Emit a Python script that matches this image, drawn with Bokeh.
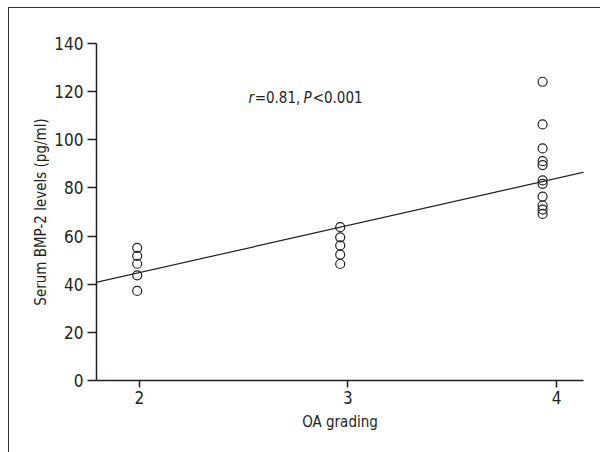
from bokeh.plotting import figure
from bokeh.models import Slope, Label, FixedTicker, Range1d
from bokeh.embed import file_html
from bokeh.resources import INLINE

# Data
grade2_x = [1.99] * 5
grade2_y = [55.1, 51.8, 48.5, 43.7, 37.2]
grade3_x = [2.963] * 5
grade3_y = [63.7, 59.5, 56.1, 52.3, 48.4]
grade4_x = [3.933] * 11
grade4_y = [124.1, 106.4, 96.4, 91.1, 89.5, 83.1, 81.7, 76.4, 72.7, 71.0, 69.2]
x_ticks = [2, 3, 4]
y_ticks = [0, 20, 40, 60, 80, 100, 120, 140]
fit_gradient = 19.6
fit_intercept = 5.6

FONT = "'DejaVu Sans Condensed', Roboto, sans-serif"
INK = "#231f20"

p = figure(width=592, height=445, output_backend="svg", toolbar_location=None,
           x_range=Range1d(1.795, 4.129), y_range=Range1d(0, 140),
           min_border_left=87, min_border_right=18, min_border_top=35, min_border_bottom=73,
           margin=(7, 0, 0, 8),
           styles={"border-left": "1px solid #333", "border-top": "1px solid #333"})
p.outline_line_color = None
p.grid.visible = False
p.background_fill_color = "white"

xs = grade2_x + grade3_x + grade4_x
ys = grade2_y + grade3_y + grade4_y
p.scatter(xs, ys, size=9, fill_color=None, line_color=INK, line_width=1.2)

p.add_layout(Slope(gradient=fit_gradient, y_intercept=fit_intercept, line_color=INK, line_width=1.2))

for ax in (p.xaxis[0], p.yaxis[0]):
    ax.axis_line_color = INK
    ax.axis_line_width = 1.5
    ax.major_tick_line_color = INK
    ax.major_tick_line_width = 1.5
    ax.minor_tick_line_color = None
    ax.major_tick_in = 0
    ax.major_label_text_font = FONT
    ax.major_label_text_font_size = "17px"
    ax.major_label_text_color = INK
    ax.axis_label_text_font = FONT
    ax.axis_label_text_font_size = "15px"
    ax.axis_label_text_font_style = "normal"
    ax.axis_label_text_color = INK

p.xaxis.ticker = FixedTicker(ticks=x_ticks)
p.yaxis.ticker = FixedTicker(ticks=y_ticks)
p.xaxis.major_tick_out = 7
p.yaxis.major_tick_out = 9
p.xaxis.major_label_standoff = 3
p.yaxis.major_label_standoff = 4
p.xaxis.axis_label = "OA grading"
p.yaxis.axis_label = "Serum BMP-2 levels (pg/ml)"
p.xaxis.axis_label_standoff = 6
p.yaxis.axis_label_standoff = 1

parts = [("r", "italic", 2.523), ("=0.81,", "normal", 2.553), ("P", "italic", 2.787), ("<0.001", "normal", 2.831)]
for txt, style, xx in parts:
    p.add_layout(Label(x=xx, y=117.4, text=txt, text_font=FONT, text_font_size="15px",
                       text_font_style=style, text_color=INK, text_baseline="alphabetic"))

open("out.html", "w").write(file_html(p, INLINE))
